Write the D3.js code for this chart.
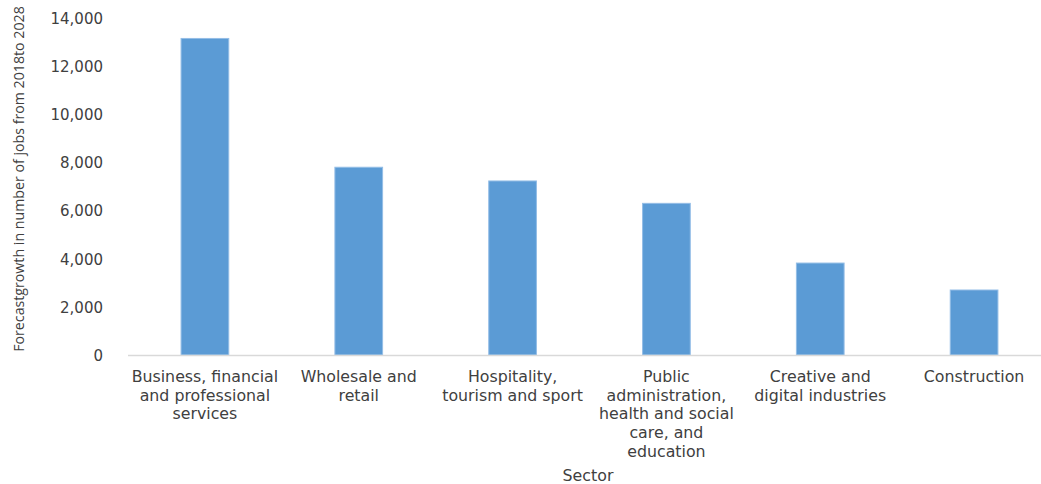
<!DOCTYPE html>
<html>
<head>
<meta charset="utf-8">
<script src="https://cdn.jsdelivr.net/npm/d3@7"></script>
<style>
  body { margin: 0; background: #fff; }
  svg { display: block; }
  .tick-label { font-family: "DejaVu Sans", sans-serif; font-size: 15px; fill: #404040; }
  .cat-label { font-family: "DejaVu Sans", sans-serif; font-size: 15.8px; fill: #404040; }
  .axis-title { font-family: "Open Sans", sans-serif; font-size: 14.2px; fill: #404040; }
</style>
</head>
<body>
<svg id="chart"></svg>
<script>
// chart values
const sectors = [
  "Business, financial and professional services",
  "Wholesale and retail",
  "Hospitality, tourism and sport",
  "Public administration, health and social care, and education",
  "Creative and digital industries",
  "Construction"
];
const sectorLines = [
  ["Business, financial", "and professional", "services"],
  ["Wholesale and", "retail"],
  ["Hospitality,", "tourism and sport"],
  ["Public", "administration,", "health and social", "care, and", "education"],
  ["Creative and", "digital industries"],
  ["Construction"]
];
const jobGrowth = [13150, 7800, 7230, 6300, 3820, 2700];
const yTicks = [0, 2000, 4000, 6000, 8000, 10000, 12000, 14000];

const width = 1041, height = 484;
const margin = {top: 18, left: 128, bottom: 355};

const svg = d3.select('#chart')
  .attr('width', width)
  .attr('height', height);

// band goes a little past the right edge, like the original crop
const xScale = d3.scaleBand()
  .domain(sectors)
  .range([margin.left, 1051])
  .paddingInner(0.69)
  .paddingOuter(0.345);

const yScale = d3.scaleLinear()
  .domain([0, 14000])
  .range([margin.bottom, margin.top]);

// y axis labels only, no line
const yAxis = d3.axisLeft(yScale)
  .tickValues(yTicks)
  .tickSize(0)
  .tickPadding(0)
  .tickFormat(d3.format(','));

const yAxisGroup = svg.append('g')
  .attr('transform', `translate(103, 0)`)
  .call(yAxis);
yAxisGroup.select('.domain').remove();
yAxisGroup.selectAll('text')
  .attr('class', 'tick-label')
  .attr('font-family', null)
  .attr('font-size', null)
  .attr('fill', null)
  .attr('dy', '0.36em');

// bars
svg.append('g')
  .selectAll('rect')
  .data(sectors)
  .join('rect')
  .attr('x', d => xScale(d))
  .attr('width', xScale.bandwidth())
  .attr('y', (d, i) => yScale(jobGrowth[i]))
  .attr('height', (d, i) => yScale(0) - yScale(jobGrowth[i]))
  .attr('fill', '#5b9bd5')
  .attr('stroke', '#93bde6')
  .attr('stroke-width', 1);

// baseline
svg.append('line')
  .attr('x1', xScale.range()[0])
  .attr('x2', xScale.range()[1])
  .attr('y1', yScale(0) + 0.5)
  .attr('y2', yScale(0) + 0.5)
  .attr('stroke', '#d9d9d9')
  .attr('stroke-width', 1.5);

// category labels, wrapped as in the original
const catGroup = svg.append('g');
sectors.forEach((s, i) => {
  const t = catGroup.append('text')
    .attr('class', 'cat-label')
    .attr('text-anchor', 'middle')
    .attr('x', xScale(s) + xScale.bandwidth() / 2)
    .attr('y', 382);
  sectorLines[i].forEach((line, j) => {
    t.append('tspan')
      .attr('x', xScale(s) + xScale.bandwidth() / 2)
      .attr('dy', j === 0 ? 0 : 18.7)
      .text(line);
  });
});

// axis titles
svg.append('text')
  .attr('class', 'cat-label')
  .attr('text-anchor', 'middle')
  .attr('x', 588)
  .attr('y', 481)
  .text('Sector');

svg.append('text')
  .attr('class', 'axis-title')
  .attr('text-anchor', 'middle')
  .attr('transform', `translate(24, 179) rotate(-90)`)
  .text('Forecastgrowth in number of jobs from 2018to 2028');
</script>
</body>
</html>
